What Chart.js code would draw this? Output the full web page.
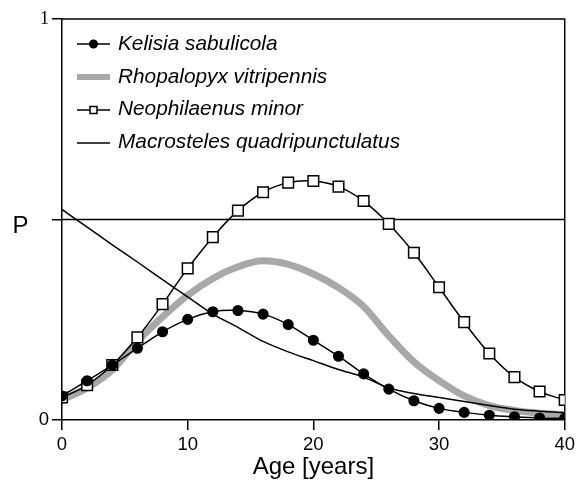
<!DOCTYPE html>
<html>
<head>
<meta charset="utf-8">
<title>Age vs P</title>
<script src="https://cdn.jsdelivr.net/npm/chart.js@4.4.1/dist/chart.umd.min.js"></script>
<style>
  html, body { margin: 0; padding: 0; background: #fff; }
  #wrap { width: 579px; height: 482px; }
</style>
</head>
<body>
<div id="wrap"><canvas id="chart" width="579" height="482"></canvas></div>
<script>
// ages (years), one value every 2 years
const ages = [0, 2, 4, 6, 8, 10, 12, 14, 16, 18, 20, 22, 24, 26, 28, 30, 32, 34, 36, 38, 40];

const kelisia = [0.060, 0.098, 0.137, 0.179, 0.220, 0.251, 0.270, 0.273, 0.264, 0.238, 0.199, 0.159, 0.115, 0.077, 0.048, 0.029, 0.019, 0.012, 0.008, 0.005, 0.004];
const rhopalopyx = [0.050, 0.080, 0.125, 0.196, 0.257, 0.311, 0.353, 0.382, 0.397, 0.388, 0.364, 0.330, 0.283, 0.210, 0.145, 0.098, 0.060, 0.036, 0.024, 0.017, 0.013];
const neophilaenus = [0.056, 0.087, 0.137, 0.206, 0.289, 0.378, 0.456, 0.522, 0.568, 0.592, 0.596, 0.582, 0.546, 0.489, 0.417, 0.331, 0.244, 0.166, 0.107, 0.071, 0.050];
const macrosteles = [0.525, 0.481, 0.437, 0.394, 0.350, 0.307, 0.264, 0.231, 0.196, 0.170, 0.148, 0.126, 0.107, 0.080, 0.066, 0.056, 0.046, 0.036, 0.027, 0.022, 0.018];

const seriesNames = ['Kelisia sabulicola', 'Rhopalopyx vitripennis', 'Neophilaenus minor', 'Macrosteles quadripunctulatus'];
const pLevel = 0.5;
const xTicks = [0, 10, 20, 30, 40];
const yTicks = [0, pLevel, 1];

const sans = '"Liberation Sans", Arial, sans-serif';
const grey = '#a8a8a8';

function toPoints(values) {
    return ages.map((a, i) => ({ x: a, y: values[i] }));
}

// legend sits inside the plot, top left
const legendBox = {
    id: 'legendBox',
    afterDraw(chart) {
        const ctx = chart.ctx;
        const rows = [
            { line: 44, base: 49.5, kind: 'circle' },
            { line: 77, base: 83, kind: 'grey' },
            { line: 110, base: 115, kind: 'square' },
            { line: 143, base: 148, kind: 'plain' }
        ];
        ctx.save();
        rows.forEach((r, i) => {
            ctx.beginPath();
            if (r.kind === 'grey') {
                ctx.strokeStyle = grey;
                ctx.lineWidth = 6;
            } else {
                ctx.strokeStyle = '#000';
                ctx.lineWidth = 1.5;
            }
            ctx.moveTo(77, r.line);
            ctx.lineTo(110, r.line);
            ctx.stroke();
            if (r.kind === 'circle') {
                ctx.beginPath();
                ctx.fillStyle = '#000';
                ctx.arc(93.5, r.line, 4.5, 0, Math.PI * 2);
                ctx.fill();
            } else if (r.kind === 'square') {
                ctx.fillStyle = '#fff';
                ctx.fillRect(90, r.line - 3.5, 7, 7);
                ctx.strokeRect(90, r.line - 3.5, 7, 7);
            }
            ctx.fillStyle = '#000';
            ctx.font = 'italic 20.8px ' + sans;
            ctx.textAlign = 'left';
            ctx.textBaseline = 'alphabetic';
            ctx.fillText(seriesNames[i], 118, r.base);
        });

        // P label, upright, left of the axis
        ctx.font = '24px ' + sans;
        ctx.textAlign = 'center';
        ctx.fillText('P', 20.5, 233);
        ctx.restore();
    }
};

// top and right edges of the box
const frame = {
    id: 'frame',
    beforeDatasetsDraw(chart) {
        const a = chart.chartArea;
        const ctx = chart.ctx;
        ctx.save();
        ctx.strokeStyle = '#000';
        ctx.lineWidth = 1.5;
        ctx.beginPath();
        ctx.moveTo(a.left, a.top);
        ctx.lineTo(a.right, a.top);
        ctx.lineTo(a.right, a.bottom);
        ctx.stroke();
        ctx.restore();
    }
};

const ctx = document.getElementById('chart').getContext('2d');
new Chart(ctx, {
    type: 'line',
    data: {
        datasets: [
            {
                label: seriesNames[0],
                data: toPoints(kelisia),
                borderColor: '#000',
                borderWidth: 1.5,
                tension: 0.3,
                pointStyle: 'circle',
                pointRadius: 4.8,
                pointBackgroundColor: '#000',
                pointBorderColor: '#000',
                order: 0
            },
            {
                label: seriesNames[1],
                data: toPoints(rhopalopyx),
                borderColor: grey,
                borderWidth: 7,
                cubicInterpolationMode: 'monotone',
                pointRadius: 0,
                order: 10
            },
            {
                label: seriesNames[2],
                data: toPoints(neophilaenus),
                borderColor: '#000',
                borderWidth: 1.5,
                tension: 0.4,
                pointStyle: 'rect',
                pointRadius: 7.5,
                pointBackgroundColor: '#fff',
                pointBorderColor: '#000',
                pointBorderWidth: 1.5,
                order: 0
            },
            {
                label: seriesNames[3],
                data: toPoints(macrosteles),
                borderColor: '#000',
                borderWidth: 1.5,
                tension: 0.3,
                pointRadius: 0,
                order: 1
            },
            {
                label: 'P',
                data: [{ x: 0, y: pLevel }, { x: 40, y: pLevel }],
                borderColor: '#000',
                borderWidth: 1.5,
                pointRadius: 0,
                order: 5
            }
        ]
    },
    options: {
        responsive: false,
        animation: false,
        layout: { padding: { top: 19, right: 12, left: 0, bottom: 0 } },
        plugins: {
            legend: { display: false },
            tooltip: { enabled: false }
        },
        scales: {
            x: {
                type: 'linear',
                min: 0,
                max: 40,
                afterFit: (scale) => { scale.height = 62; },
                afterBuildTicks: (scale) => { scale.ticks = xTicks.map(v => ({ value: v })); },
                border: { display: true, color: '#000', width: 1.5 },
                grid: { drawOnChartArea: false, drawTicks: true, tickLength: 10, color: '#000', lineWidth: 1.5 },
                ticks: {
                    color: '#000',
                    padding: 4,
                    maxRotation: 0,
                    font: { family: sans, size: 18.5 }
                },
                title: {
                    display: true,
                    text: 'Age [years]',
                    color: '#000',
                    padding: { top: 0, bottom: 0 },
                    font: { family: sans, size: 24 }
                }
            },
            y: {
                type: 'linear',
                min: 0,
                max: 1,
                afterFit: (scale) => { scale.width = 62; },
                afterBuildTicks: (scale) => { scale.ticks = yTicks.map(v => ({ value: v })); },
                border: { display: true, color: '#000', width: 1.5 },
                grid: { drawOnChartArea: false, drawTicks: true, tickLength: 10, color: '#000', lineWidth: 1.5 },
                ticks: {
                    color: '#000',
                    padding: 3,
                    callback: (v) => (v === pLevel ? '' : String(v)),
                    font: (c) => (c.tick && c.tick.value === 1
                        ? { family: '"Liberation Serif", "Times New Roman", serif', size: 18 }
                        : { family: sans, size: 18.5 })
                }
            }
        }
    },
    plugins: [frame, legendBox]
});
</script>
</body>
</html>
